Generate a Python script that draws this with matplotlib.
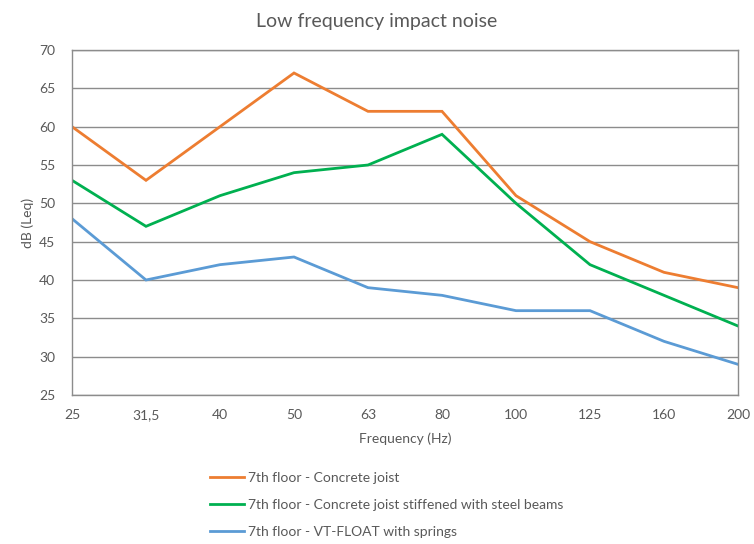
import matplotlib
matplotlib.use("Agg")
import matplotlib.pyplot as plt

categories = ["25", "31,5", "40", "50", "63", "80", "100", "125", "160", "200"]
concrete = [60, 53, 60, 67, 62, 62, 51, 45, 41, 39]
stiffened = [53, 47, 51, 54, 55, 59, 50, 42, 38, 34]
vtfloat = [48, 40, 42, 43, 39, 38, 36, 36, 32, 29]
labels = ["7th floor - Concrete joist",
          "7th floor - Concrete joist stiffened with steel beams",
          "7th floor - VT-FLOAT with springs"]
colors = ["#ED7D31", "#00B050", "#5B9BD5"]
yticks = [25, 30, 35, 40, 45, 50, 55, 60, 65, 70]

plt.rcParams['font.family'] = ['Lato', 'DejaVu Sans']
txt = "#595959"

fig = plt.figure(figsize=(7.54, 5.44), dpi=100)
ax = fig.add_axes([72/754, 1-395/544, (738-72)/754, (395-50)/544])

x = list(range(len(categories)))
for ys, c, lab in zip([concrete, stiffened, vtfloat], colors, labels):
    ax.plot(x, ys, color=c, lw=2.0, label=lab, solid_joinstyle='miter')

ax.set_xlim(0, len(categories)-1)
ax.set_ylim(25, 70)
ax.set_yticks(yticks)
ax.set_xticks(x)
ax.set_xticklabels(categories)
ax.grid(axis='y', color='#8c8c8c', lw=1.0)
ax.set_axisbelow(True)
for s in ax.spines.values():
    s.set_color('#8c8c8c')
    s.set_linewidth(1.0)
ax.tick_params(length=0, colors=txt, labelsize=10, pad=10)
ax.tick_params(axis='y', pad=12)
ax.set_xlabel("Frequency (Hz)", color=txt, fontsize=10, labelpad=8)
ax.set_ylabel("dB (Leq)", color=txt, fontsize=10, labelpad=4)
fig.text(0.5, 1-22/544, "Low frequency impact noise", ha='center', va='center',
         color=txt, fontsize=14)

handles, lbls = ax.get_legend_handles_labels()
fig.legend(handles, lbls, loc='upper left', bbox_to_anchor=(198/754, 1-459/544),
           frameon=False, fontsize=10, labelcolor=txt, handlelength=2.4,
           handletextpad=0.3, labelspacing=1.1)

fig.savefig("out.png", dpi=100)
